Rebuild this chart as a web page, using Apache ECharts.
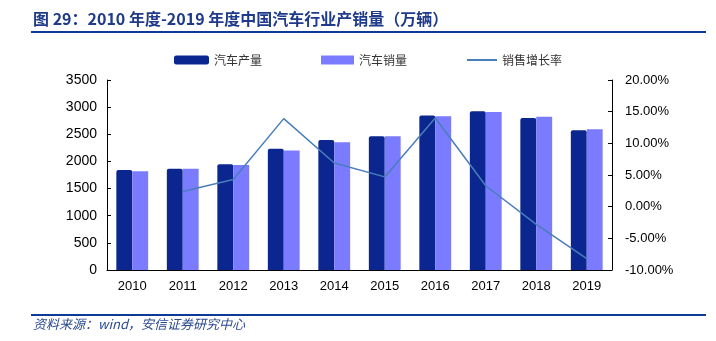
<!DOCTYPE html>
<html>
<head>
<meta charset="utf-8">
<script src="https://cdn.jsdelivr.net/npm/echarts@6/dist/echarts.min.js"></script>
<style>
  html, body { margin: 0; padding: 0; background: #ffffff; }
  #chart { width: 716px; height: 341px; }
</style>
</head>
<body>
<div id="chart"></div>
<script>
const years = ['2010', '2011', '2012', '2013', '2014', '2015', '2016', '2017', '2018', '2019'];
const production = [1840, 1865, 1950, 2235, 2395, 2465, 2845, 2925, 2800, 2575];
const sales = [1820, 1865, 1935, 2200, 2355, 2465, 2830, 2910, 2825, 2595];
const salesGrowth = [null, 2.4, 4.3, 13.9, 6.9, 4.7, 14.0, 3.3, -2.8, -8.2];
const leftTicks = { min: 0, max: 3500, interval: 500 };
const rightTicks = { min: -10, max: 20, interval: 5 };

const palette = {
  dark: '#0b268f',
  light: '#7b7bff',
  line: '#4a7ebb',
  title: '#1f3a8a',
  rule: '#0d3a96'
};

const labelFont = { color: '#000000', fontSize: 13, fontFamily: 'Liberation Sans, Arial, sans-serif' };
const cjk = 'Noto Sans CJK SC, sans-serif';

const chart = echarts.init(document.getElementById('chart'));

chart.setOption({
  animation: false,
  backgroundColor: '#ffffff',
  graphic: [
    {
      type: 'text', left: 33, top: 11,
      style: {
        text: '图 29：2010 年度-2019 年度中国汽车行业产销量（万辆）',
        fill: palette.title, font: 'bold 16px ' + cjk
      }
    },
    { type: 'rect', shape: { x: 31, y: 31, width: 675, height: 2 }, style: { fill: palette.rule } },
    { type: 'rect', shape: { x: 31, y: 314, width: 675, height: 2 }, style: { fill: palette.rule } },
    {
      type: 'text', left: 33, top: 318,
      style: {
        text: '资料来源：wind，安信证券研究中心',
        fill: '#2b4a8f', font: 'italic 13px ' + cjk
      }
    }
  ],
  legend: [
    {
      left: 169, top: 49, itemWidth: 35, itemHeight: 9, itemGap: 5,
      data: [{ name: '汽车产量', icon: 'roundRect' }],
      textStyle: { color: '#333333', fontSize: 12, fontFamily: cjk }
    },
    {
      left: 316, top: 49, itemWidth: 33, itemHeight: 9,
      data: [{ name: '汽车销量', icon: 'rect' }],
      textStyle: { color: '#333333', fontSize: 12, fontFamily: cjk }
    },
    {
      left: 462, top: 49, itemWidth: 30, itemHeight: 2,
      data: [{ name: '销售增长率', icon: 'rect', itemStyle: { color: palette.line } }],
      textStyle: { color: '#333333', fontSize: 12, fontFamily: cjk }
    }
  ],
  grid: { left: 107, right: 104, top: 80, bottom: 71 },
  xAxis: {
    type: 'category',
    data: years,
    axisLine: { lineStyle: { color: '#000000', width: 1 } },
    axisTick: { inside: true, length: 4, lineStyle: { color: '#000000' } },
    axisLabel: Object.assign({ margin: 10 }, labelFont)
  },
  yAxis: [
    {
      type: 'value',
      min: leftTicks.min, max: leftTicks.max, interval: leftTicks.interval,
      axisLine: { show: true, lineStyle: { color: '#000000' } },
      axisTick: { show: true, inside: true, length: 4, lineStyle: { color: '#000000' } },
      axisLabel: Object.assign({ margin: 10, formatter: v => String(v) }, labelFont, { fontSize: 14 }),
      splitLine: { show: false }
    },
    {
      type: 'value',
      min: rightTicks.min, max: rightTicks.max, interval: rightTicks.interval,
      axisLine: { show: true, lineStyle: { color: '#000000' } },
      axisTick: { show: true, inside: true, length: 4, lineStyle: { color: '#000000' } },
      axisLabel: Object.assign({ margin: 13, formatter: v => v.toFixed(2) + '%' }, labelFont),
      splitLine: { show: false }
    }
  ],
  series: [
    {
      name: '汽车产量', type: 'bar', data: production,
      barGap: '0%', barCategoryGap: '37%',
      itemStyle: { color: palette.dark, borderRadius: [2, 2, 0, 0] }
    },
    {
      name: '汽车销量', type: 'bar', data: sales,
      itemStyle: { color: palette.light }
    },
    {
      name: '销售增长率', type: 'line', yAxisIndex: 1, data: salesGrowth,
      symbol: 'none', connectNulls: false,
      lineStyle: { color: palette.line, width: 1.5 },
      itemStyle: { color: palette.line }
    }
  ]
});
</script>
</body>
</html>
